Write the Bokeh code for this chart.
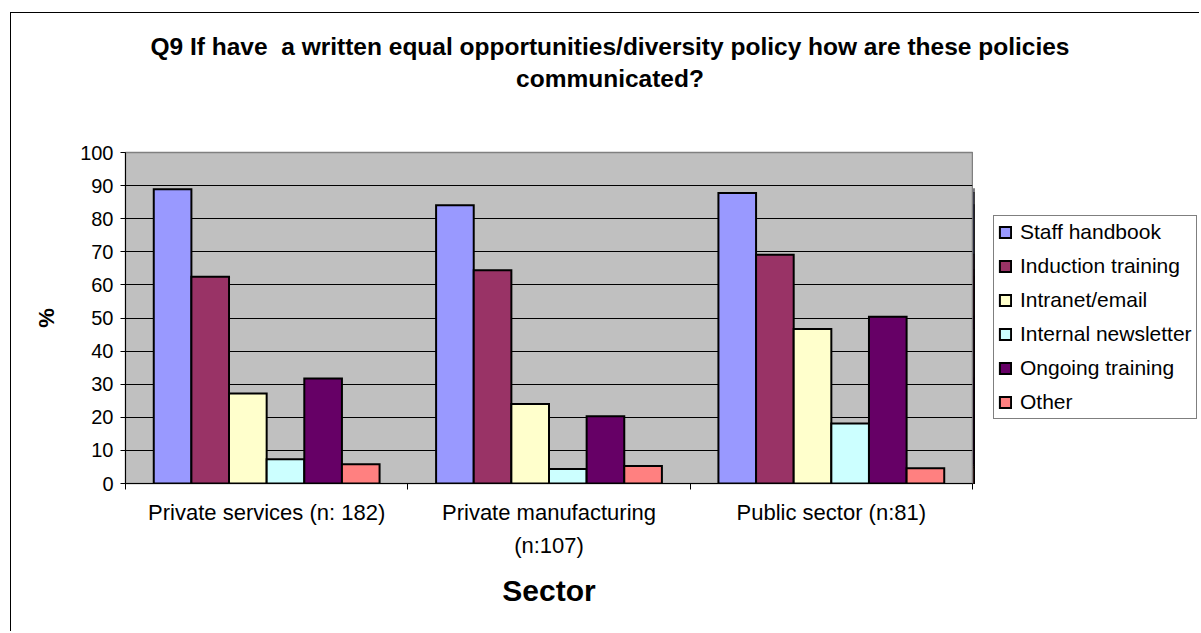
from bokeh.plotting import figure
from bokeh.layouts import column, row
from bokeh.models import (ColumnDataSource, Range1d, FixedTicker, Legend, LegendItem, Div)
from bokeh.transform import dodge
from bokeh.embed import file_html
from bokeh.resources import INLINE

# ---- data ----
sectors = ["Private services (n: 182)", "Private manufacturing\n(n:107)", "Public sector (n:81)"]
series_names = ["Staff handbook", "Induction training", "Intranet/email",
                "Internal newsletter", "Ongoing training", "Other"]
staff_handbook = [88.9, 84.1, 87.8]
induction_training = [62.5, 64.4, 69.1]
intranet_email = [27.2, 24.0, 46.7]
internal_newsletter = [7.3, 4.4, 18.1]
ongoing_training = [31.7, 20.3, 50.4]
other = [5.8, 5.3, 4.6]
y_ticks = [0, 10, 20, 30, 40, 50, 60, 70, 80, 90, 100]
title_lines = ["Q9 If have&nbsp; a written equal opportunities/diversity policy how are these policies",
               "communicated?"]

series_values = [staff_handbook, induction_training, intranet_email,
                 internal_newsletter, ongoing_training, other]
colors = ["#9999FF", "#993366", "#FFFFCC", "#CCFFFF", "#660066", "#FF8080"]

FONT = "Liberation Sans"
W_MAIN = 962
W_LEG = 226
H = 518

title_div = Div(text="<br>".join(title_lines), width=W_MAIN + W_LEG, height=100, margin=0,
                styles={"font-family": FONT, "font-weight": "bold", "font-size": "24.5px",
                        "line-height": "32px", "text-align": "center", "color": "black",
                        "padding-top": "18px", "padding-left": "10px",
                        "box-sizing": "border-box"})

p = figure(width=W_MAIN, height=H, output_backend="svg", toolbar_location=None,
           x_range=Range1d(0, 3), y_range=Range1d(0, 100),
           min_border_left=114, min_border_top=39, min_border_right=1,
           min_border_bottom=148)
p.margin = 0

p.background_fill_color = "#C0C0C0"
p.border_fill_color = "white"
p.outline_line_color = "#808080"
p.outline_line_width = 1.5

src_data = {"xc": [i + 0.5 for i in range(len(sectors))]}
for name, vals in zip(series_names, series_values):
    src_data[name] = vals
src = ColumnDataSource(src_data)

# legend panel: a separate figure to the right of the plot area; its bars share the
# same data but its x range lies away from them, so only the legend is visible
lf = figure(width=W_LEG, height=H, output_backend="svg", toolbar_location=None,
            x_axis_type=None, y_axis_type=None, x_range=Range1d(100, 101),
            y_range=Range1d(0, 100),
            min_border_left=0, min_border_right=0, min_border_top=39, min_border_bottom=148)
lf.margin = 0
lf.outline_line_color = None
lf.background_fill_color = "white"
lf.border_fill_color = "white"
lf.xgrid.visible = False
lf.ygrid.visible = False

bw = 0.1333
items = []
for k, (name, col) in enumerate(zip(series_names, colors)):
    off = (k - 2.5) * bw
    style = dict(width=bw, bottom=0, source=src, fill_color=col, line_color="black",
                 line_width=2, line_join="miter")
    p.vbar(x=dodge("xc", off, range=p.x_range), top=name, **style)
    r = lf.vbar(x=dodge("xc", off, range=lf.x_range), top=name, **style)
    items.append(LegendItem(label=name, renderers=[r]))

legend = Legend(items=items, location=(20, 64))
legend.label_text_font = FONT
legend.label_text_font_size = "21px"
legend.label_text_color = "black"
legend.glyph_width = 14
legend.glyph_height = 14
legend.label_height = 24
legend.spacing = 10
legend.padding = 4
legend.margin = 0
legend.label_standoff = 8
legend.border_line_color = "black"
legend.border_line_width = 1
legend.background_fill_color = "white"
legend.background_fill_alpha = 1
lf.add_layout(legend, "center")

# axes
p.xgrid.visible = False
p.ygrid.grid_line_color = "black"
p.ygrid.grid_line_width = 1
p.ygrid.ticker = FixedTicker(ticks=y_ticks)

p.yaxis.ticker = FixedTicker(ticks=y_ticks, minor_ticks=[])
p.yaxis.major_tick_out = 5
p.yaxis.major_tick_in = 0
p.yaxis.minor_tick_out = 0
p.yaxis.minor_tick_in = 0
p.yaxis.axis_line_color = "black"
p.yaxis.major_label_text_font = FONT
p.yaxis.major_label_text_font_size = "20px"
p.yaxis.major_label_text_color = "black"
p.yaxis.major_label_standoff = 7
p.yaxis.axis_label = "%"
p.yaxis.axis_label_text_font = FONT
p.yaxis.axis_label_text_font_size = "22px"
p.yaxis.axis_label_text_font_style = "bold"
p.yaxis.axis_label_text_color = "black"
p.yaxis.axis_label_standoff = 18

p.xaxis.ticker = FixedTicker(ticks=src_data["xc"], minor_ticks=[0, 1, 2, 3])
p.xaxis.major_label_overrides = {c: s for c, s in zip(src_data["xc"], sectors)}
p.xaxis.major_tick_out = 0
p.xaxis.major_tick_in = 0
p.xaxis.minor_tick_out = 6
p.xaxis.minor_tick_in = 0
p.xaxis.axis_line_color = "black"
p.xaxis.major_label_text_font = FONT
p.xaxis.major_label_text_font_size = "22px"
p.xaxis.major_label_text_color = "black"
p.xaxis.major_label_text_line_height = 1.33
p.xaxis.major_label_standoff = 10
p.xaxis.axis_label = "Sector"
p.xaxis.axis_label_text_font = FONT
p.xaxis.axis_label_text_font_size = "30px"
p.xaxis.axis_label_text_font_style = "bold"
p.xaxis.axis_label_text_color = "black"
p.xaxis.axis_label_standoff = 13

layout = column(title_div, row(p, lf, spacing=0), spacing=0)
layout.margin = (12, 0, 0, 10)
layout.styles = {"border-left": "1px solid black", "border-top": "1px solid black"}

open("out.html", "w").write(file_html(layout, INLINE))
